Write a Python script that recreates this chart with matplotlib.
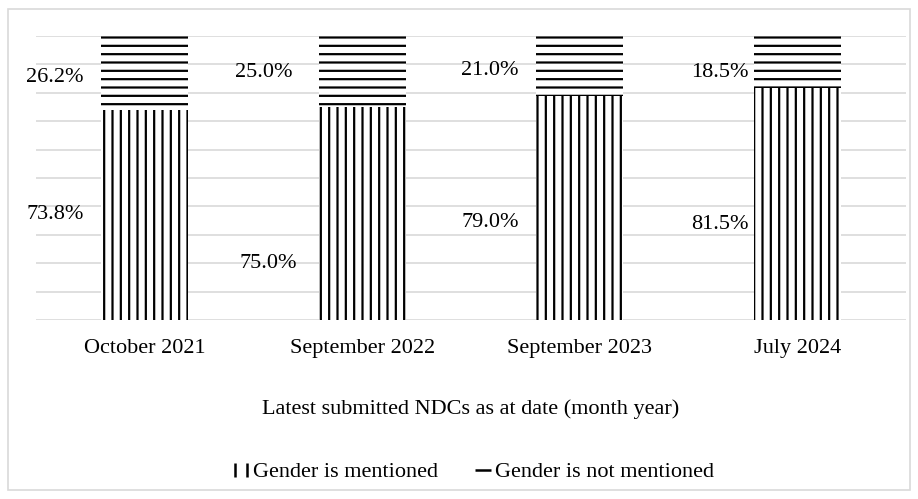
# 100% stacked bars: NDCs mentioning gender
import matplotlib.pyplot as plt
from matplotlib.patches import Rectangle
from matplotlib.lines import Line2D
from matplotlib.path import Path

plt.rcParams['font.family'] = ['Liberation Serif', 'DejaVu Serif']
plt.rcParams['hatch.linewidth'] = 1.6

dates = ['October 2021', 'September 2022', 'September 2023', 'July 2024']
mentioned = [73.8, 75.0, 79.0, 81.5]
not_mentioned = [26.2, 25.0, 21.0, 18.5]

# label placement (manual, as in the original) : x offset from bar centre, y in axis units
lab_dx_m = [-0.28, -0.30, -0.28, -0.225]
lab_y_m = [0.37, 0.20, 0.342, 0.335]
lab_dx_n = [-0.28, -0.32, -0.28, -0.225]
lab_y_n = [0.852, 0.870, 0.88, 0.873]

fig = plt.figure(figsize=(9.18, 4.99), dpi=100)
ax = fig.add_axes([0.0392, 0.3587, 0.9478, 0.5693])

x = range(len(dates))
frac_m = [v / 100 for v in mentioned]
frac_n = [v / 100 for v in not_mentioned]
ax.bar(x, frac_m, width=0.4, color='white', edgecolor='black', linewidth=0,
       hatch='||', zorder=3)
ax.bar(x, frac_n, bottom=frac_m, width=0.4, color='white', edgecolor='black',
       linewidth=0, hatch='--', zorder=3)

for i in x:
    ax.text(i + lab_dx_m[i], lab_y_m[i], f'{mentioned[i]:.1f}%', ha='right',
            va='center', fontsize=16, zorder=4)
    ax.text(i + lab_dx_n[i], lab_y_n[i], f'{not_mentioned[i]:.1f}%', ha='right',
            va='center', fontsize=16, zorder=4)

ax.set_xlim(-0.5, 3.5)
ax.set_ylim(0, 1)
ax.set_yticks([i / 10 for i in range(11)])
ax.yaxis.grid(True, color='#d9d9d9', linewidth=1.2, zorder=0)
ax.set_axisbelow(True)
for s in ax.spines.values():
    s.set_visible(False)
ax.tick_params(axis='y', left=False, labelleft=False)
ax.tick_params(axis='x', bottom=False, labelsize=16, pad=10)
ax.set_xticks(list(x))
ax.set_xticklabels(dates)
ax.set_xlabel('Latest submitted NDCs as at date (month year)', fontsize=16, labelpad=30)

# legend keys like the original: two short bars / one dash
vbars = Path([(-0.4, -0.5), (-0.4, 0.5), (0.4, -0.5), (0.4, 0.5)],
             [Path.MOVETO, Path.LINETO, Path.MOVETO, Path.LINETO])
dash = Path([(-0.5, 0), (0.5, 0)], [Path.MOVETO, Path.LINETO])
handles = [Line2D([], [], linestyle='none', marker=vbars, markersize=10,
                  markeredgewidth=1.8, color='black'),
           Line2D([], [], linestyle='none', marker=dash, markersize=11,
                  markeredgewidth=1.8, color='black')]
fig.legend(handles, ['Gender is mentioned', 'Gender is not mentioned'],
           loc='center', bbox_to_anchor=(0.5172, 0.054), ncol=2, frameon=False,
           fontsize=16, handlelength=0.5, handletextpad=0.3,
           columnspacing=1.77)

fig.patches.append(Rectangle((8 / 918, 9 / 499), 902 / 918, 481 / 499,
                             transform=fig.transFigure, fill=False,
                             edgecolor='#d9d9d9', linewidth=1.2))

fig.savefig('out.png', dpi=100)
